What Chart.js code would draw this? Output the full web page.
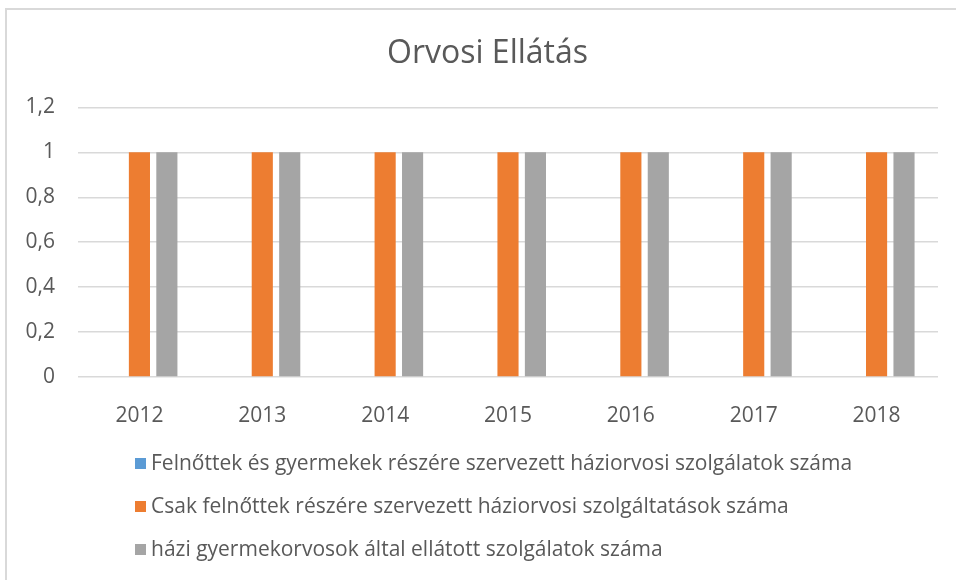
<!DOCTYPE html>
<html>
<head>
<meta charset="utf-8">
<script src="https://cdn.jsdelivr.net/npm/chart.js@4.4.1/dist/chart.umd.min.js"></script>
<style>
  html, body { margin: 0; padding: 0; background: #fff; overflow: hidden; }
  #wrap { position: relative; width: 956px; height: 580px; overflow: hidden; }
  #frame { position: absolute; left: 5px; top: 8px; width: 1000px; height: 1000px; border: 2px solid #d9d9d9; box-sizing: border-box; }
  #chart { position: absolute; left: 0; top: 0; }
  #legend { position: absolute; left: 135px; top: 441px; font-family: "Open Sans", sans-serif; font-size: 21px; color: #595959; }
  #legend .item { height: 43px; line-height: 43px; white-space: nowrap; }
  #legend .box { display: inline-block; width: 11px; height: 11px; margin-right: 5px; vertical-align: middle; position: relative; top: -1px; }
</style>
</head>
<body>
<div id="wrap">
  <div id="frame"></div>
  <canvas id="chart" width="975" height="580"></canvas>
  <div id="legend"></div>
</div>
<script>
// --- adatok ---
const years = ["2012", "2013", "2014", "2015", "2016", "2017", "2018"];
const felnottGyermek = [0, 0, 0, 0, 0, 0, 0];
const csakFelnott = [1, 1, 1, 1, 1, 1, 1];
const haziGyermek = [1, 1, 1, 1, 1, 1, 1];
const seriesNames = [
  "Felnőttek és gyermekek részére szervezett háziorvosi szolgálatok száma",
  "Csak felnőttek részére szervezett háziorvosi szolgáltatások száma",
  "házi gyermekorvosok által ellátott szolgálatok száma",
];
const seriesColors = ["#5B9BD5", "#ED7D31", "#A5A5A5"];

const textColor = "#595959";
const fontFamily = "'Open Sans', sans-serif";

const chart = new Chart(document.getElementById("chart"), {
  type: "bar",
  data: {
    labels: years,
    datasets: [felnottGyermek, csakFelnott, haziGyermek].map((d, i) => ({
      label: seriesNames[i],
      data: d,
      backgroundColor: seriesColors[i],
      categoryPercentage: 0.67,
      barPercentage: 0.77,
    })),
  },
  options: {
    responsive: false,
    animation: false,
    layout: { padding: { left: 0, right: 0, top: 0, bottom: 157 } },
    plugins: {
      legend: { display: false },
      tooltip: { enabled: false },
      title: {
        display: true,
        text: "Orvosi Ellátás",
        color: textColor,
        font: { family: fontFamily, size: 32, weight: "normal" },
        padding: { top: 35, bottom: 34 },
      },
    },
    scales: {
      x: {
        grid: { display: false },
        border: { display: false },
        ticks: { color: textColor, font: { family: fontFamily, size: 21 }, padding: 18 },
        afterFit: (s) => { s.height = 46; },
      },
      y: {
        min: 0,
        max: 1.2,
        ticks: {
          stepSize: 0.2,
          color: textColor,
          font: { family: fontFamily, size: 21 },
          padding: 23,
          callback: (v) => String(Number(v.toFixed(1))).replace(".", ","),
        },
        grid: { color: "#d9d9d9", lineWidth: 1.5, drawTicks: false },
        border: { display: false },
        afterFit: (s) => { s.width = 78; },
      },
      // üres jobb oldali sáv, hogy a cím a keret közepére kerüljön
      yRight: {
        position: "right",
        min: 0,
        max: 1.2,
        grid: { display: false },
        border: { display: false },
        ticks: { display: false },
        afterFit: (s) => { s.width = 37; },
      },
    },
  },
});

// --- jelmagyarázat ---
const legendDiv = document.getElementById("legend");
chart.data.datasets.forEach((ds) => {
  const row = document.createElement("div");
  row.className = "item";
  const box = document.createElement("span");
  box.className = "box";
  box.style.background = ds.backgroundColor;
  row.appendChild(box);
  row.appendChild(document.createTextNode(ds.label));
  legendDiv.appendChild(row);
});
</script>
</body>
</html>
